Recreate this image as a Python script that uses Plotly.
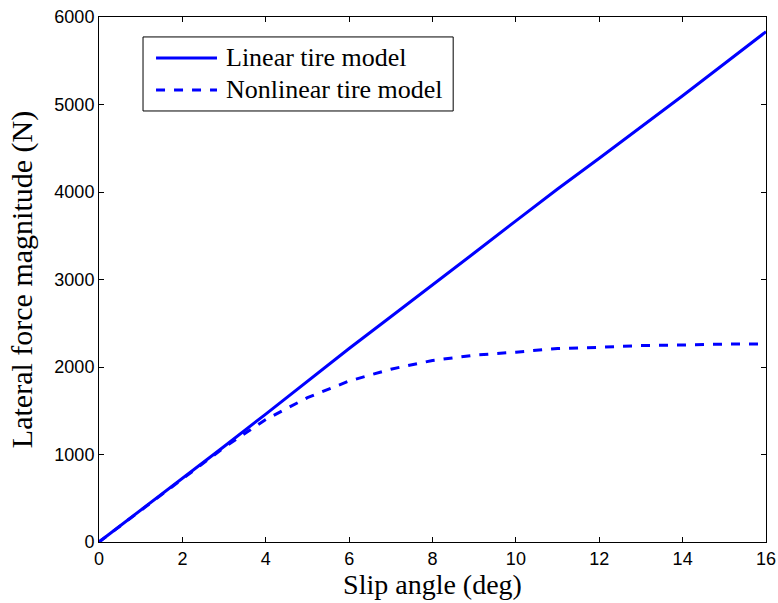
import plotly.graph_objects as go

slip_deg = [0, 1, 2, 3, 4, 5, 6, 7, 8, 9, 10, 11, 12, 13, 14, 15, 16]
linear_force = [0, 362, 726, 1092, 1462, 1842, 2212, 2575, 2935, 3303, 3670, 4035, 4385, 4740, 5100, 5465, 5832]
nonlinear_force = [0, 360, 722, 1080, 1400, 1650, 1840, 1975, 2075, 2135, 2170, 2212, 2225, 2245, 2252, 2262, 2262]
series_names = ["Linear tire model", "Nonlinear tire model"]
x_ticks = [0, 2, 4, 6, 8, 10, 12, 14, 16]
y_ticks = [0, 1000, 2000, 3000, 4000, 5000, 6000]

BLUE = "#0000ff"
SERIF = "Liberation Serif, Times New Roman, serif"
SANS = "Liberation Sans, Arial, sans-serif"

fig = go.Figure()
fig.add_trace(go.Scatter(x=slip_deg, y=linear_force, mode="lines", name=series_names[0],
                         line=dict(color=BLUE, width=3)))
fig.add_trace(go.Scatter(x=slip_deg, y=nonlinear_force, mode="lines", name=series_names[1],
                         line=dict(color=BLUE, width=3, dash="dash")))

axis_common = dict(showline=True, linecolor="black", linewidth=1, mirror="allticks",
                   ticks="inside", ticklen=5, tickcolor="black", showgrid=False, zeroline=False,
                   automargin=False,
                   tickfont=dict(family=SANS, size=18, color="black"))
fig.update_layout(
    width=778, height=603,
    margin=dict(l=99, r=12, t=17, b=61),
    paper_bgcolor="white", plot_bgcolor="white",
    xaxis=dict(range=[0, 16], tickvals=x_ticks,
               title=dict(text="Slip angle (deg)", standoff=2,
                          font=dict(family=SERIF, size=28, color="black")),
               **axis_common),
    yaxis=dict(range=[0, 6000], tickvals=y_ticks,
               title=dict(text="Lateral force magnitude (N)", standoff=12,
                          font=dict(family=SERIF, size=30, color="black")),
               **axis_common),
    showlegend=False,
)

# Manual legend (MATLAB style) in plot-area paper coordinates
fig.add_shape(type="rect", xref="paper", yref="paper", x0=0.066, x1=0.531, y0=0.821, y1=0.962,
              line=dict(color="black", width=1), fillcolor="white", layer="above")
legend_rows = [0.922, 0.861]
dashes = ["solid", "dash"]
for name, yr, dsh in zip(series_names, legend_rows, dashes):
    fig.add_shape(type="line", xref="paper", yref="paper", x0=0.0855, x1=0.1769, y0=yr, y1=yr,
                  line=dict(color=BLUE, width=3, dash=dsh), layer="above")
    fig.add_annotation(xref="paper", yref="paper", x=0.1874, y=yr, xanchor="left", yanchor="middle",
                       text=name, showarrow=False,
                       font=dict(family=SERIF, size=26, color="black"))

fig.write_html("out.html")
